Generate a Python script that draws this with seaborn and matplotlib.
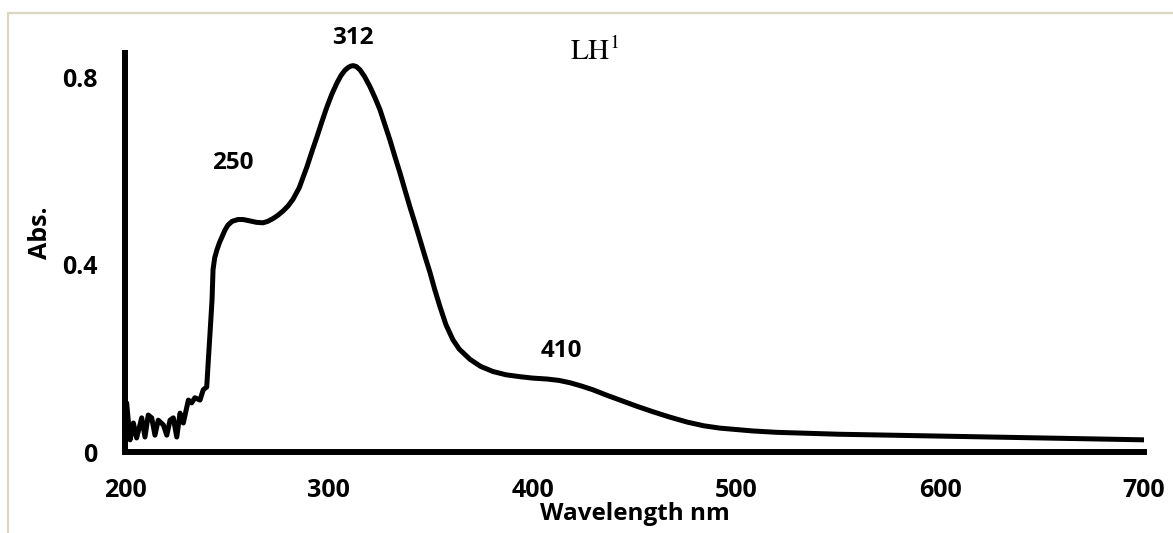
import matplotlib
matplotlib.use("Agg")
import matplotlib.pyplot as plt
from matplotlib.lines import Line2D
import pandas as pd
import seaborn as sns

# UV-Vis absorption spectrum of LH1 (wavelength in nm, absorbance)
wavelength = [
    200.0, 200.8, 202.5, 204.1, 205.7, 208.2, 209.8, 211.4, 213.1, 214.7,
    216.3, 218.8, 220.5, 222.1, 223.7, 225.4, 227.0, 228.6, 231.1, 232.7,
    234.3, 236.8, 238.4, 240.1, 240.9, 241.8, 242.7, 243.2, 244.0, 245.1,
    246.3, 247.6, 249.0, 250.5, 252.5, 255.4, 258.0, 261.3, 264.5, 267.7,
    270.0, 272.6, 275.0, 277.5, 280.0, 282.4, 285.5, 289.3, 291.7, 294.2,
    296.6, 299.1, 301.5, 304.0, 306.0, 307.9, 309.5, 310.8, 312.0, 313.5,
    315.3, 317.5, 320.2, 322.6, 325.1, 327.5, 330.0, 332.4, 334.9, 337.3,
    339.8, 342.3, 344.8, 347.2, 349.7, 352.0, 354.6, 357.5, 360.9, 364.0,
    369.3, 374.5, 380.6, 387.0, 393.8, 400.0, 407.1, 413.0, 418.4, 424.0,
    429.6, 436.0, 442.9, 451.0, 459.1, 467.0, 475.8, 484.0, 492.0, 500.0,
    508.0, 520.0, 550.0, 600.0, 650.0, 700.0,
]
absorbance = [
    0.060, 0.105, 0.026, 0.062, 0.030, 0.073, 0.032, 0.079, 0.073, 0.036,
    0.068, 0.058, 0.036, 0.068, 0.073, 0.032, 0.083, 0.062, 0.111, 0.105,
    0.116, 0.111, 0.133, 0.139, 0.197, 0.260, 0.325, 0.390, 0.415, 0.432,
    0.447, 0.460, 0.474, 0.485, 0.493, 0.497, 0.497, 0.494, 0.491, 0.490,
    0.493, 0.499, 0.506, 0.515, 0.526, 0.540, 0.565, 0.610, 0.642, 0.674,
    0.706, 0.738, 0.765, 0.789, 0.805, 0.816, 0.822, 0.825, 0.826, 0.824,
    0.817, 0.803, 0.781, 0.758, 0.732, 0.700, 0.667, 0.632, 0.597, 0.561,
    0.524, 0.489, 0.453, 0.418, 0.383, 0.347, 0.310, 0.272, 0.240, 0.220,
    0.198, 0.183, 0.172, 0.165, 0.161, 0.158, 0.156, 0.153, 0.148, 0.141,
    0.133, 0.122, 0.111, 0.098, 0.086, 0.075, 0.064, 0.056, 0.051, 0.048,
    0.045, 0.042, 0.038, 0.034, 0.030, 0.026,
]

# Band maxima marked on the spectrum (nm)
peaks = [250, 312, 410]

x_ticks = [200, 300, 400, 500, 600, 700]
x_tick_labels = ["200", "300", "400", "500", "600", "700"]
y_ticks = [0.0, 0.4, 0.8]
y_tick_labels = ["0", "0.4", "0.8"]

spectrum = pd.DataFrame({"Wavelength": wavelength, "Abs": absorbance})

sns.set_theme(style="white")
plt.rcParams["font.family"] = ["Open Sans", "DejaVu Sans"]
plt.rcParams["mathtext.fontset"] = "stix"
plt.rcParams["text.color"] = "black"
plt.rcParams["axes.labelcolor"] = "black"
plt.rcParams["xtick.color"] = "black"
plt.rcParams["ytick.color"] = "black"

W, H = 1173, 533
fig = plt.figure(figsize=(W / 100, H / 100), dpi=100)
fig.patch.set_facecolor("white")

# axes box: x from 200 (px 125) to 700 (px 1144); y from 0 (px 452) to top (px 53)
ax = fig.add_axes([125 / W, 1 - 452 / H, (1144 - 125) / W, (452 - 53) / H])
ax.set_facecolor("white")

sns.lineplot(data=spectrum, x="Wavelength", y="Abs", ax=ax, color="black",
             linewidth=3.6, solid_joinstyle="round", solid_capstyle="round")

ax.set_xlim(200, 700)
ax.set_ylim(0, 0.853)

for side in ("top", "right"):
    ax.spines[side].set_visible(False)
for side in ("left", "bottom"):
    ax.spines[side].set_color("black")
    ax.spines[side].set_linewidth(4.3)

ax.set_xticks(x_ticks)
ax.set_xticklabels(x_tick_labels, fontsize=18, fontweight="bold", color="black")
ax.set_yticks(y_ticks)
ax.set_yticklabels(y_tick_labels, fontsize=18, fontweight="bold", color="black")
ax.tick_params(axis="both", direction="out", length=7, width=4.3,
               color="black", labelcolor="black")
ax.tick_params(axis="x", pad=12)
ax.tick_params(axis="y", pad=13)

ax.set_xlabel("Wavelength nm", fontsize=17.5, fontweight="bold", va="top",
              color="black")
ax.xaxis.set_label_coords(0.5, -0.126)
ax.set_ylabel("Abs.", fontsize=18, fontweight="bold", va="center", color="black")
ax.yaxis.set_label_coords(-0.083, 0.549)

# peak annotations: (dx, dy) offsets in points from the curve at each maximum
label_offsets = {250: (4, 45), 312: (0, 20), 410: (6, 20)}
for p in peaks:
    idx = min(range(len(wavelength)), key=lambda i: abs(wavelength[i] - p))
    dx, dy = label_offsets[p]
    ax.annotate(str(p), xy=(p, absorbance[idx]), xytext=(dx, dy),
                textcoords="offset points", ha="center", va="center",
                fontsize=17.5, fontweight="bold", color="black",
                annotation_clip=False)

fig.text(595 / W, 1 - 52 / H, r"$\mathrm{LH}^{1}$", fontsize=21,
         ha="center", va="center", color="black")

# light outer frame along the top and left edges
frame_color = "#DAD6C0"
fig.add_artist(Line2D([8 / W, 1.0], [1 - 13 / H, 1 - 13 / H],
                      transform=fig.transFigure, color=frame_color, lw=1.6))
fig.add_artist(Line2D([8 / W, 8 / W], [0.0, 1 - 13 / H],
                      transform=fig.transFigure, color=frame_color, lw=1.6))

fig.savefig("out.png", dpi=100, facecolor="white")
